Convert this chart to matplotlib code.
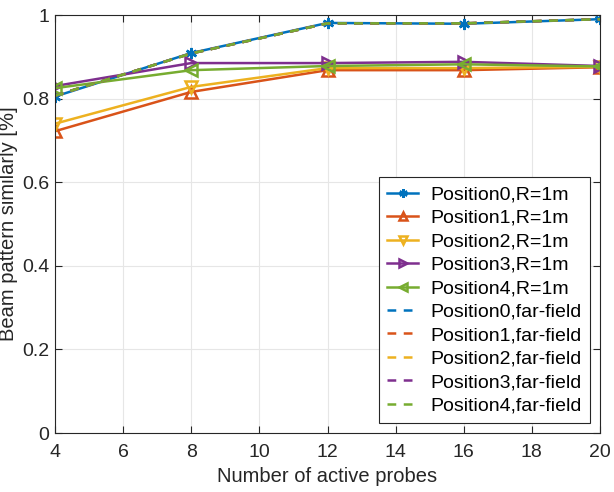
import matplotlib.pyplot as plt

plt.rcParams['font.family'] = ['Liberation Sans', 'DejaVu Sans']

probes = [4, 8, 12, 16, 20]

pos0 = [0.805, 0.909, 0.981, 0.979, 0.990]
pos1 = [0.722, 0.816, 0.868, 0.868, 0.875]
pos2 = [0.740, 0.828, 0.873, 0.873, 0.876]
pos3 = [0.830, 0.885, 0.885, 0.888, 0.878]
pos4 = [0.825, 0.868, 0.878, 0.882, 0.877]

far0 = [0.807, 0.908, 0.980, 0.980, 0.990]
far1 = [0.807, 0.908, 0.980, 0.980, 0.990]
far2 = [0.807, 0.908, 0.980, 0.980, 0.990]
far3 = [0.807, 0.908, 0.980, 0.980, 0.990]
far4 = [0.807, 0.908, 0.980, 0.980, 0.990]

colors = ['#0072BD', '#D95319', '#EDB120', '#7E2F8E', '#77AC30']
markers = [(6, 2, 0), '^', 'v', '>', '<']

fig = plt.figure(figsize=(6.14, 4.92), dpi=100)
ax = fig.add_axes([55 / 614, 1 - 433 / 492, 545 / 614, 418 / 492])

near = [pos0, pos1, pos2, pos3, pos4]
far = [far0, far1, far2, far3, far4]
for i, y in enumerate(near):
    ax.plot(probes, y, color=colors[i], marker=markers[i], markersize=8,
            markerfacecolor='none', markeredgewidth=1.8, linewidth=1.8,
            label='Position%d,R=1m' % i)
for i, y in enumerate(far):
    ax.plot(probes, y, color=colors[i], linestyle=(0, (3.5, 3)), linewidth=1.8,
            label='Position%d,far-field' % i)

ax.set_xlim(4, 20)
ax.set_ylim(0, 1)
ax.set_xticks(range(4, 21, 2))
ax.set_yticks([0, 0.2, 0.4, 0.6, 0.8, 1])
ax.set_yticklabels(['0', '0.2', '0.4', '0.6', '0.8', '1'])
ax.grid(True, color='#e6e6e6', linewidth=0.8)
ax.tick_params(direction='in', labelsize=14, colors='#262626', top=True, right=True, length=5)
ax.tick_params(axis='x', pad=8)
ax.tick_params(axis='y', pad=4)
for s in ax.spines.values():
    s.set_color('#262626')
ax.set_xlabel('Number of active probes', fontsize=14.5, color='#262626', labelpad=4)
ax.set_ylabel('Beam pattern similarly [%]', fontsize=14.5, color='#262626', labelpad=3)

leg = ax.legend(loc='lower right', fontsize=14, fancybox=False, edgecolor='#262626',
                handlelength=1.6, borderpad=0.45, labelspacing=0.3, handletextpad=0.6,
                borderaxespad=0.5, framealpha=1, markerscale=0.75)
leg.get_frame().set_linewidth(0.8)

plt.savefig('out.png', dpi=100)
